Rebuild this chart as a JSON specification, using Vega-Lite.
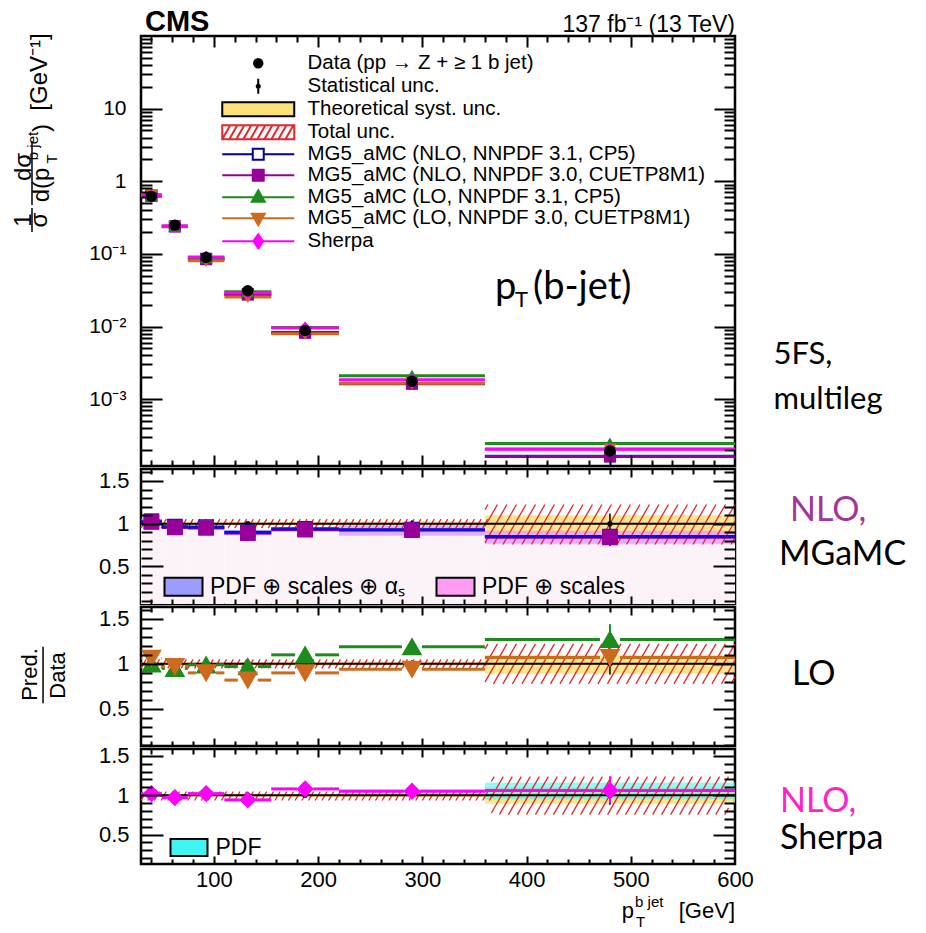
{
  "$schema": "https://vega.github.io/schema/vega-lite/v6.json",
  "background": "white",
  "padding": {"left": 10, "top": 6, "right": 5, "bottom": 0},
  "config": {
    "view": {"stroke": "black", "strokeWidth": 2.5},
    "axis": {"domain": false, "grid": false, "tickColor": "black", "tickWidth": 2, "labelColor": "black", "labelFont": "Liberation Sans", "labelFontSize": 22, "labelFlush": false, "labelOverlap": false},
    "legend": {"padding": 0}
  },
  "datasets": {
    "one": [{"k": 0}],
    "bins": [
      {"lo": 30, "hi": 50, "c": 40, "v": 0.62, "vlo": 0.613, "vhi": 0.627, "slo": 0.988, "shi": 1.012, "ylo": 0.985, "yhi": 1.015},
      {"lo": 50, "hi": 75, "c": 62.5, "v": 0.249, "vlo": 0.2465, "vhi": 0.2515, "slo": 0.99, "shi": 1.01, "ylo": 0.985, "yhi": 1.015},
      {"lo": 75, "hi": 110, "c": 92.5, "v": 0.089, "vlo": 0.0877, "vhi": 0.0903, "slo": 0.985, "shi": 1.015, "ylo": 0.985, "yhi": 1.015},
      {"lo": 110, "hi": 155, "c": 132.5, "v": 0.031, "vlo": 0.0304, "vhi": 0.0316, "slo": 0.98, "shi": 1.02, "ylo": 0.98, "yhi": 1.02},
      {"lo": 155, "hi": 220, "c": 187.5, "v": 0.0088, "vlo": 0.00855, "vhi": 0.00905, "slo": 0.97, "shi": 1.03, "ylo": 0.98, "yhi": 1.02},
      {"lo": 220, "hi": 360, "c": 290, "v": 0.00176, "vlo": 0.00169, "vhi": 0.00183, "slo": 0.96, "shi": 1.04, "ylo": 0.975, "yhi": 1.025},
      {"lo": 360, "hi": 600, "c": 480, "v": 0.000193, "vlo": 0.00017, "vhi": 0.000216, "slo": 0.88, "shi": 1.12, "ylo": 0.89, "yhi": 1.1}
    ],
    "pred": [
      {"model": "MG5_aMC (NLO, NNPDF 3.1, CP5)", "grp": "NLO", "band": "PDF ⊕ scales ⊕ αₛ", "lo": 30, "hi": 50, "c": 40, "xs": 0.6324, "r": 1.02, "elo": 1.0, "ehi": 1.04, "blo": 0.995, "bhi": 1.045},
      {"model": "MG5_aMC (NLO, NNPDF 3.1, CP5)", "grp": "NLO", "band": "PDF ⊕ scales ⊕ αₛ", "lo": 50, "hi": 75, "c": 62.5, "xs": 0.2403, "r": 0.965, "elo": 0.95, "ehi": 0.98, "blo": 0.945, "bhi": 0.985},
      {"model": "MG5_aMC (NLO, NNPDF 3.1, CP5)", "grp": "NLO", "band": "PDF ⊕ scales ⊕ αₛ", "lo": 75, "hi": 110, "c": 92.5, "xs": 0.08544, "r": 0.96, "elo": 0.945, "ehi": 0.975, "blo": 0.94, "bhi": 0.98},
      {"model": "MG5_aMC (NLO, NNPDF 3.1, CP5)", "grp": "NLO", "band": "PDF ⊕ scales ⊕ αₛ", "lo": 110, "hi": 155, "c": 132.5, "xs": 0.0279, "r": 0.9, "elo": 0.88, "ehi": 0.92, "blo": 0.875, "bhi": 0.925},
      {"model": "MG5_aMC (NLO, NNPDF 3.1, CP5)", "grp": "NLO", "band": "PDF ⊕ scales ⊕ αₛ", "lo": 155, "hi": 220, "c": 187.5, "xs": 0.008272, "r": 0.94, "elo": 0.92, "ehi": 0.96, "blo": 0.915, "bhi": 0.965},
      {"model": "MG5_aMC (NLO, NNPDF 3.1, CP5)", "grp": "NLO", "band": "PDF ⊕ scales ⊕ αₛ", "lo": 220, "hi": 360, "c": 290, "xs": 0.0016368, "r": 0.93, "elo": 0.91, "ehi": 0.95, "blo": 0.86, "bhi": 0.98},
      {"model": "MG5_aMC (NLO, NNPDF 3.1, CP5)", "grp": "NLO", "band": "PDF ⊕ scales ⊕ αₛ", "lo": 360, "hi": 600, "c": 480, "xs": 0.00016405, "r": 0.85, "elo": 0.74, "ehi": 0.93, "blo": 0.77, "bhi": 0.91},
      {"model": "MG5_aMC (NLO, NNPDF 3.0, CUETP8M1)", "grp": "NLO", "band": "PDF ⊕ scales", "lo": 30, "hi": 50, "c": 40, "xs": 0.6386, "r": 1.03, "elo": 1.015, "ehi": 1.045, "blo": 1.0, "bhi": 1.06},
      {"model": "MG5_aMC (NLO, NNPDF 3.0, CUETP8M1)", "grp": "NLO", "band": "PDF ⊕ scales", "lo": 50, "hi": 75, "c": 62.5, "xs": 0.2378, "r": 0.955, "elo": 0.94, "ehi": 0.97, "blo": 0.935, "bhi": 0.975},
      {"model": "MG5_aMC (NLO, NNPDF 3.0, CUETP8M1)", "grp": "NLO", "band": "PDF ⊕ scales", "lo": 75, "hi": 110, "c": 92.5, "xs": 0.08455, "r": 0.95, "elo": 0.935, "ehi": 0.965, "blo": 0.93, "bhi": 0.97},
      {"model": "MG5_aMC (NLO, NNPDF 3.0, CUETP8M1)", "grp": "NLO", "band": "PDF ⊕ scales", "lo": 110, "hi": 155, "c": 132.5, "xs": 0.02759, "r": 0.89, "elo": 0.87, "ehi": 0.91, "blo": 0.865, "bhi": 0.915},
      {"model": "MG5_aMC (NLO, NNPDF 3.0, CUETP8M1)", "grp": "NLO", "band": "PDF ⊕ scales", "lo": 155, "hi": 220, "c": 187.5, "xs": 0.008184, "r": 0.93, "elo": 0.91, "ehi": 0.95, "blo": 0.905, "bhi": 0.955},
      {"model": "MG5_aMC (NLO, NNPDF 3.0, CUETP8M1)", "grp": "NLO", "band": "PDF ⊕ scales", "lo": 220, "hi": 360, "c": 290, "xs": 0.001628, "r": 0.925, "elo": 0.905, "ehi": 0.945, "blo": 0.87, "bhi": 0.97},
      {"model": "MG5_aMC (NLO, NNPDF 3.0, CUETP8M1)", "grp": "NLO", "band": "PDF ⊕ scales", "lo": 360, "hi": 600, "c": 480, "xs": 0.00016212, "r": 0.84, "elo": 0.76, "ehi": 0.92, "blo": 0.76, "bhi": 0.92},
      {"model": "MG5_aMC (LO, NNPDF 3.1, CP5)", "grp": "LO", "lo": 30, "hi": 50, "c": 40, "xs": 0.62, "r": 1.0, "elo": 0.98, "ehi": 1.02},
      {"model": "MG5_aMC (LO, NNPDF 3.1, CP5)", "grp": "LO", "lo": 50, "hi": 75, "c": 62.5, "xs": 0.23655, "r": 0.95, "elo": 0.93, "ehi": 0.97},
      {"model": "MG5_aMC (LO, NNPDF 3.1, CP5)", "grp": "LO", "lo": 75, "hi": 110, "c": 92.5, "xs": 0.08811, "r": 0.99, "elo": 0.97, "ehi": 1.01},
      {"model": "MG5_aMC (LO, NNPDF 3.1, CP5)", "grp": "LO", "lo": 110, "hi": 155, "c": 132.5, "xs": 0.03007, "r": 0.97, "elo": 0.94, "ehi": 1.0},
      {"model": "MG5_aMC (LO, NNPDF 3.1, CP5)", "grp": "LO", "lo": 155, "hi": 220, "c": 187.5, "xs": 0.00968, "r": 1.1, "elo": 1.07, "ehi": 1.13},
      {"model": "MG5_aMC (LO, NNPDF 3.1, CP5)", "grp": "LO", "lo": 220, "hi": 360, "c": 290, "xs": 0.0020944, "r": 1.19, "elo": 1.16, "ehi": 1.22},
      {"model": "MG5_aMC (LO, NNPDF 3.1, CP5)", "grp": "LO", "lo": 360, "hi": 600, "c": 480, "xs": 0.00024511, "r": 1.27, "elo": 1.1, "ehi": 1.44},
      {"model": "MG5_aMC (LO, NNPDF 3.0, CUETP8M1)", "grp": "LO", "lo": 30, "hi": 50, "c": 40, "xs": 0.6572, "r": 1.06, "elo": 1.04, "ehi": 1.08},
      {"model": "MG5_aMC (LO, NNPDF 3.0, CUETP8M1)", "grp": "LO", "lo": 50, "hi": 75, "c": 62.5, "xs": 0.24153, "r": 0.97, "elo": 0.95, "ehi": 0.99},
      {"model": "MG5_aMC (LO, NNPDF 3.0, CUETP8M1)", "grp": "LO", "lo": 75, "hi": 110, "c": 92.5, "xs": 0.0801, "r": 0.9, "elo": 0.88, "ehi": 0.92},
      {"model": "MG5_aMC (LO, NNPDF 3.0, CUETP8M1)", "grp": "LO", "lo": 110, "hi": 155, "c": 132.5, "xs": 0.02542, "r": 0.82, "elo": 0.79, "ehi": 0.85},
      {"model": "MG5_aMC (LO, NNPDF 3.0, CUETP8M1)", "grp": "LO", "lo": 155, "hi": 220, "c": 187.5, "xs": 0.00792, "r": 0.9, "elo": 0.87, "ehi": 0.93},
      {"model": "MG5_aMC (LO, NNPDF 3.0, CUETP8M1)", "grp": "LO", "lo": 220, "hi": 360, "c": 290, "xs": 0.0016544, "r": 0.94, "elo": 0.91, "ehi": 0.97},
      {"model": "MG5_aMC (LO, NNPDF 3.0, CUETP8M1)", "grp": "LO", "lo": 360, "hi": 600, "c": 480, "xs": 0.00020651, "r": 1.07, "elo": 0.97, "ehi": 1.17},
      {"model": "Sherpa", "grp": "SH", "band": "PDF", "lo": 30, "hi": 50, "c": 40, "xs": 0.6324, "r": 1.02, "elo": 1.0, "ehi": 1.04, "blo": 1.005, "bhi": 1.035},
      {"model": "Sherpa", "grp": "SH", "band": "PDF", "lo": 50, "hi": 75, "c": 62.5, "xs": 0.24153, "r": 0.97, "elo": 0.94, "ehi": 1.0, "blo": 0.955, "bhi": 0.985},
      {"model": "Sherpa", "grp": "SH", "band": "PDF", "lo": 75, "hi": 110, "c": 92.5, "xs": 0.09078, "r": 1.02, "elo": 1.0, "ehi": 1.04, "blo": 1.005, "bhi": 1.035},
      {"model": "Sherpa", "grp": "SH", "band": "PDF", "lo": 110, "hi": 155, "c": 132.5, "xs": 0.02914, "r": 0.94, "elo": 0.91, "ehi": 0.97, "blo": 0.925, "bhi": 0.955},
      {"model": "Sherpa", "grp": "SH", "band": "PDF", "lo": 155, "hi": 220, "c": 187.5, "xs": 0.009504, "r": 1.08, "elo": 1.06, "ehi": 1.1, "blo": 1.065, "bhi": 1.095},
      {"model": "Sherpa", "grp": "SH", "band": "PDF", "lo": 220, "hi": 360, "c": 290, "xs": 0.001848, "r": 1.05, "elo": 1.03, "ehi": 1.07, "blo": 1.03, "bhi": 1.08},
      {"model": "Sherpa", "grp": "SH", "band": "PDF", "lo": 360, "hi": 600, "c": 480, "xs": 0.00020458, "r": 1.06, "elo": 0.9, "ehi": 1.24, "blo": 0.95, "bhi": 1.16}
    ]
  },
  "spacing": -4,
  "resolve": {"scale": {"color": "independent"}, "legend": {"color": "independent"}},
  "vconcat": [
    {
      "width": 594,
      "height": 430,
      "resolve": {"axis": {"x": "independent", "y": "independent"}},
      "layer": [
        {"data": {"name": "pred"}, "mark": {"type": "rule", "strokeWidth": 3},
         "encoding": {
           "x": {"field": "lo", "type": "quantitative", "scale": {"domain": [30, 600]}, "axis": null},
           "x2": {"field": "hi"},
           "y": {"field": "xs", "type": "quantitative", "scale": {"type": "log", "domain": [0.00012, 100]}, "axis": null},
           "stroke": {"field": "model", "type": "nominal", "scale": {"domain": ["MG5_aMC (NLO, NNPDF 3.1, CP5)", "MG5_aMC (NLO, NNPDF 3.0, CUETP8M1)", "MG5_aMC (LO, NNPDF 3.1, CP5)", "MG5_aMC (LO, NNPDF 3.0, CUETP8M1)", "Sherpa"], "range": ["#1010d0", "#990099", "#1c8c1c", "#cc6b1e", "#ff00ff"]}, "legend": null}}},
        {"data": {"name": "pred"}, "mark": {"type": "point", "filled": true, "size": 110, "strokeWidth": 1.5, "opacity": 1},
         "encoding": {
           "x": {"field": "c", "type": "quantitative", "scale": {"domain": [30, 600]}, "axis": null},
           "y": {"field": "xs", "type": "quantitative", "scale": {"type": "log", "domain": [0.00012, 100]}, "axis": null},
           "shape": {"field": "model", "type": "nominal", "scale": {"domain": ["MG5_aMC (NLO, NNPDF 3.1, CP5)", "MG5_aMC (NLO, NNPDF 3.0, CUETP8M1)", "MG5_aMC (LO, NNPDF 3.1, CP5)", "MG5_aMC (LO, NNPDF 3.0, CUETP8M1)", "Sherpa"], "range": ["square", "square", "triangle-up", "triangle-down", "diamond"]}, "legend": null},
           "fill": {"field": "model", "type": "nominal", "scale": {"domain": ["MG5_aMC (NLO, NNPDF 3.1, CP5)", "MG5_aMC (NLO, NNPDF 3.0, CUETP8M1)", "MG5_aMC (LO, NNPDF 3.1, CP5)", "MG5_aMC (LO, NNPDF 3.0, CUETP8M1)", "Sherpa"], "range": ["white", "#990099", "#1c8c1c", "#cc6b1e", "#ff00ff"]}, "legend": null},
           "stroke": {"field": "model", "type": "nominal", "scale": {"domain": ["MG5_aMC (NLO, NNPDF 3.1, CP5)", "MG5_aMC (NLO, NNPDF 3.0, CUETP8M1)", "MG5_aMC (LO, NNPDF 3.1, CP5)", "MG5_aMC (LO, NNPDF 3.0, CUETP8M1)", "Sherpa"], "range": ["#1010d0", "#990099", "#1c8c1c", "#cc6b1e", "#ff00ff"]}, "legend": null}}},
        {"data": {"name": "bins"}, "mark": {"type": "rule", "color": "black", "strokeWidth": 1.5},
         "encoding": {
           "x": {"field": "c", "type": "quantitative", "scale": {"domain": [30, 600]}, "axis": null},
           "y": {"field": "vlo", "type": "quantitative", "scale": {"type": "log", "domain": [0.00012, 100]}, "axis": null},
           "y2": {"field": "vhi"}}},
        {"data": {"name": "bins"}, "mark": {"type": "point", "filled": true, "color": "black", "size": 130, "opacity": 1},
         "encoding": {
           "x": {"field": "c", "type": "quantitative", "scale": {"domain": [30, 600]}, "axis": null},
           "y": {"field": "v", "type": "quantitative", "scale": {"type": "log", "domain": [0.00012, 100]}, "axis": null}}},
        {"data": {"name": "pred"}, "mark": {"type": "point", "filled": true, "opacity": 0},
         "encoding": {
           "x": {"field": "c", "type": "quantitative", "scale": {"domain": [30, 600]}, "axis": null},
           "y": {"field": "xs", "type": "quantitative", "scale": {"type": "log", "domain": [0.00012, 100]}, "axis": null},
           "color": {"field": "model", "type": "nominal",
             "scale": {"domain": ["Data (pp → Z + ≥ 1 b jet)", "Statistical unc.", "Theoretical syst. unc.", "Total unc.", "MG5_aMC (NLO, NNPDF 3.1, CP5)", "MG5_aMC (NLO, NNPDF 3.0, CUETP8M1)", "MG5_aMC (LO, NNPDF 3.1, CP5)", "MG5_aMC (LO, NNPDF 3.0, CUETP8M1)", "Sherpa"],
                       "range": ["black", "black", "#fde27a", "transparent", "white", "#990099", "#1c8c1c", "#cc6b1e", "#ff00ff"]},
             "legend": {"orient": "none", "legendX": 107, "legendY": 17, "title": null, "direction": "vertical", "padding": 0,
               "symbolSize": 324, "symbolStrokeWidth": 2, "symbolOffset": 0, "labelOffset": 39, "rowPadding": 0,
               "labelFont": "Liberation Sans", "labelFontSize": 20.5, "labelColor": "black", "labelLimit": 600,
               "encode": {"symbols": {"update": {
                 "shape": {"signal": "['M-0.47,0A0.47,0.47,0,1,1,0.47,0A0.47,0.47,0,1,1,-0.47,0Z','M0,-0.83V0.83M-0.17,0A0.17,0.17,0,1,1,0.17,0A0.17,0.17,0,1,1,-0.17,0Z','M-4,-0.78H4V0.78H-4Z','M-4,-0.78H4V0.78H-4ZM-4,0.78l0.89,-1.56m-0.11,1.56l0.89,-1.56m-0.11,1.56l0.89,-1.56m-0.11,1.56l0.89,-1.56m-0.11,1.56l0.89,-1.56m-0.11,1.56l0.89,-1.56m-0.11,1.56l0.89,-1.56m-0.11,1.56l0.89,-1.56m-0.11,1.56l0.89,-1.56m-0.11,1.56l0.89,-1.56','M-4,0H-0.61M0.61,0H4M-0.61,-0.61H0.61V0.61H-0.61Z','M-4,0H4M-0.61,-0.61H0.61V0.61H-0.61Z','M-4,0H4M0,-0.78L0.72,0.5H-0.72Z','M-4,0H4M0,0.78L0.72,-0.5H-0.72Z','M-4,0H4M0,-0.78L0.56,0L0,0.78L-0.56,0Z'][datum.index]"},
                 "stroke": {"signal": "['black','black','black','#e8252a','#000099','#990099','#1c8c1c','#cc6b1e','#ff00ff'][datum.index]"},
                 "opacity": {"value": 1}}}}}}}},
        {"data": {"name": "one"}, "mark": {"type": "text", "text": "CMS", "font": "Liberation Sans", "fontSize": 29, "fontWeight": "bold", "align": "left", "baseline": "alphabetic", "dx": 4, "color": "black"},
         "encoding": {"x": {"datum": 30, "type": "quantitative", "scale": {"domain": [30, 600]}, "axis": null}, "y": {"datum": 117, "type": "quantitative", "scale": {"type": "log", "domain": [0.00012, 100]}, "axis": null}}},
        {"data": {"name": "one"}, "mark": {"type": "text", "text": "137 fb⁻¹ (13 TeV)", "font": "Liberation Sans", "fontSize": 23, "align": "right", "baseline": "alphabetic", "color": "black"},
         "encoding": {"x": {"datum": 600, "type": "quantitative", "scale": {"domain": [30, 600]}, "axis": null}, "y": {"datum": 113.5, "type": "quantitative", "scale": {"type": "log", "domain": [0.00012, 100]}, "axis": null}}},
        {"data": {"name": "one"}, "mark": {"type": "text", "text": "p", "font": "Lato", "fontSize": 38, "align": "left", "baseline": "alphabetic", "color": "black"},
         "encoding": {"x": {"datum": 369.7, "type": "quantitative", "scale": {"domain": [30, 600]}, "axis": null}, "y": {"datum": 0.02389, "type": "quantitative", "scale": {"type": "log", "domain": [0.00012, 100]}, "axis": null}}},
        {"data": {"name": "one"}, "mark": {"type": "text", "text": "T", "font": "Lato", "fontSize": 22, "align": "left", "baseline": "alphabetic", "color": "black"},
         "encoding": {"x": {"datum": 389, "type": "quantitative", "scale": {"domain": [30, 600]}, "axis": null}, "y": {"datum": 0.01853, "type": "quantitative", "scale": {"type": "log", "domain": [0.00012, 100]}, "axis": null}}},
        {"data": {"name": "one"}, "mark": {"type": "text", "text": "(b-jet)", "font": "Lato", "fontSize": 38, "align": "left", "baseline": "alphabetic", "color": "black"},
         "encoding": {"x": {"datum": 406.2, "type": "quantitative", "scale": {"domain": [30, 600]}, "axis": null}, "y": {"datum": 0.02389, "type": "quantitative", "scale": {"type": "log", "domain": [0.00012, 100]}, "axis": null}}},
        {"data": {"name": "one"}, "mark": {"type": "text", "text": "5FS,", "font": "Lato", "fontSize": 31, "align": "left", "baseline": "alphabetic", "color": "black"},
         "encoding": {"x": {"datum": 637, "type": "quantitative", "scale": {"domain": [30, 600]}, "axis": null}, "y": {"datum": 0.003044, "type": "quantitative", "scale": {"type": "log", "domain": [0.00012, 100]}, "axis": null}}},
        {"data": {"name": "one"}, "mark": {"type": "text", "text": "multileg", "font": "Lato", "fontSize": 31, "align": "left", "baseline": "alphabetic", "color": "black"},
         "encoding": {"x": {"datum": 637, "type": "quantitative", "scale": {"domain": [30, 600]}, "axis": null}, "y": {"datum": 0.000731, "type": "quantitative", "scale": {"type": "log", "domain": [0.00012, 100]}, "axis": null}}},
        {"data": {"name": "one"}, "mark": {"type": "text", "text": "1", "font": "Liberation Sans", "fontSize": 24, "angle": 270, "align": "center", "baseline": "middle", "color": "black"},
         "encoding": {"x": {"datum": -82.3, "type": "quantitative", "scale": {"domain": [30, 600]}, "axis": null}, "y": {"datum": 0.2926, "type": "quantitative", "scale": {"type": "log", "domain": [0.00012, 100]}, "axis": null}}},
        {"data": {"name": "one"}, "mark": {"type": "text", "text": "σ", "font": "Liberation Sans", "fontSize": 24, "angle": 270, "align": "center", "baseline": "middle", "color": "black"},
         "encoding": {"x": {"datum": -66.9, "type": "quantitative", "scale": {"domain": [30, 600]}, "axis": null}, "y": {"datum": 0.2926, "type": "quantitative", "scale": {"type": "log", "domain": [0.00012, 100]}, "axis": null}}},
        {"data": {"name": "one"}, "mark": {"type": "text", "text": "dσ", "font": "Liberation Sans", "fontSize": 24, "angle": 270, "align": "center", "baseline": "middle", "color": "black"},
         "encoding": {"x": {"datum": -82.3, "type": "quantitative", "scale": {"domain": [30, 600]}, "axis": null}, "y": {"datum": 1.571, "type": "quantitative", "scale": {"type": "log", "domain": [0.00012, 100]}, "axis": null}}},
        {"data": {"name": "one"}, "mark": {"type": "text", "text": "d(p", "font": "Liberation Sans", "fontSize": 24, "angle": 270, "align": "center", "baseline": "middle", "color": "black"},
         "encoding": {"x": {"datum": -65, "type": "quantitative", "scale": {"domain": [30, 600]}, "axis": null}, "y": {"datum": 0.8875, "type": "quantitative", "scale": {"type": "log", "domain": [0.00012, 100]}, "axis": null}}},
        {"data": {"name": "one"}, "mark": {"type": "text", "text": "T", "font": "Liberation Sans", "fontSize": 15, "angle": 270, "align": "center", "baseline": "middle", "color": "black"},
         "encoding": {"x": {"datum": -55.4, "type": "quantitative", "scale": {"domain": [30, 600]}, "axis": null}, "y": {"datum": 2.025, "type": "quantitative", "scale": {"type": "log", "domain": [0.00012, 100]}, "axis": null}}},
        {"data": {"name": "one"}, "mark": {"type": "text", "text": "b jet", "font": "Liberation Sans", "fontSize": 15, "angle": 270, "align": "center", "baseline": "middle", "color": "black"},
         "encoding": {"x": {"datum": -73.6, "type": "quantitative", "scale": {"domain": [30, 600]}, "axis": null}, "y": {"datum": 3.058, "type": "quantitative", "scale": {"type": "log", "domain": [0.00012, 100]}, "axis": null}}},
        {"data": {"name": "one"}, "mark": {"type": "text", "text": ")", "font": "Liberation Sans", "fontSize": 24, "angle": 270, "align": "center", "baseline": "middle", "color": "black"},
         "encoding": {"x": {"datum": -65, "type": "quantitative", "scale": {"domain": [30, 600]}, "axis": null}, "y": {"datum": 5.41, "type": "quantitative", "scale": {"type": "log", "domain": [0.00012, 100]}, "axis": null}}},
        {"data": {"name": "one"}, "mark": {"type": "text", "text": "[GeV⁻¹]", "font": "Liberation Sans", "fontSize": 24, "angle": 270, "align": "center", "baseline": "middle", "color": "black"},
         "encoding": {"x": {"datum": -66.9, "type": "quantitative", "scale": {"domain": [30, 600]}, "axis": null}, "y": {"datum": 31.9, "type": "quantitative", "scale": {"type": "log", "domain": [0.00012, 100]}, "axis": null}}},
        {"data": {"name": "one"}, "mark": {"type": "rule", "color": "black", "strokeWidth": 1.5},
         "encoding": {"x": {"datum": -74.6, "type": "quantitative", "scale": {"domain": [30, 600]}, "axis": null}, "y": {"datum": 0.428, "type": "quantitative", "scale": {"type": "log", "domain": [0.00012, 100]}, "axis": null}, "y2": {"datum": 0.2}}},
        {"data": {"name": "one"}, "mark": {"type": "rule", "color": "black", "strokeWidth": 1.5},
         "encoding": {"x": {"datum": -74.6, "type": "quantitative", "scale": {"domain": [30, 600]}, "axis": null}, "y": {"datum": 3.582, "type": "quantitative", "scale": {"type": "log", "domain": [0.00012, 100]}, "axis": null}, "y2": {"datum": 0.4708}}},
        {"data": {"name": "one"}, "mark": {"type": "point", "opacity": 0},
         "encoding": {
           "x": {"datum": 100, "type": "quantitative", "scale": {"domain": [30, 600]}, "axis": null},
           "y": {"datum": 1, "type": "quantitative", "scale": {"type": "log", "domain": [0.00012, 100]}, "axis": {"orient": "left", "values": [0.001, 0.01, 0.1, 1, 10], "ticks": false, "labelFontSize": 21, "labelPadding": 15, "title": null, "labelExpr": "datum.value >= 10 ? '10' : datum.value >= 1 ? '1' : datum.value >= 0.1 ? '10⁻¹' : datum.value >= 0.01 ? '10⁻²' : '10⁻³'"}}}},
        {"data": {"name": "one"}, "mark": {"type": "point", "opacity": 0},
         "encoding": {
           "x": {"datum": 100, "type": "quantitative", "scale": {"domain": [30, 600]}, "axis": {"orient": "bottom", "values": [100, 200, 300, 400, 500], "labels": false, "tickSize": -11, "title": null, "zindex": 1}},
           "y": {"datum": 1, "type": "quantitative", "scale": {"type": "log", "domain": [0.00012, 100]}, "axis": {"orient": "left", "values": [0.001, 0.01, 0.1, 1, 10], "labels": false, "tickSize": -21, "title": null, "zindex": 1}}}},
        {"data": {"name": "one"}, "mark": {"type": "point", "opacity": 0},
         "encoding": {
           "x": {"datum": 100, "type": "quantitative", "scale": {"domain": [30, 600]}, "axis": {"orient": "bottom", "values": [40, 60, 80, 120, 140, 160, 180, 220, 240, 260, 280, 320, 340, 360, 380, 420, 440, 460, 480, 520, 540, 560, 580], "labels": false, "tickSize": -6, "title": null, "zindex": 1}},
           "y": {"datum": 1, "type": "quantitative", "scale": {"type": "log", "domain": [0.00012, 100]}, "axis": {"orient": "left", "values": [0.0002, 0.0003, 0.0004, 0.0005, 0.0006, 0.0007, 0.0008, 0.0009, 0.002, 0.003, 0.004, 0.005, 0.006, 0.007, 0.008, 0.009, 0.02, 0.03, 0.04, 0.05, 0.06, 0.07, 0.08, 0.09, 0.2, 0.3, 0.4, 0.5, 0.6, 0.7, 0.8, 0.9, 2, 3, 4, 5, 6, 7, 8, 9, 20, 30, 40, 50, 60, 70, 80, 90], "labels": false, "tickSize": -11, "title": null, "zindex": 1}}}},
        {"data": {"name": "one"}, "mark": {"type": "point", "opacity": 0},
         "encoding": {
           "x": {"datum": 100, "type": "quantitative", "scale": {"domain": [30, 600]}, "axis": {"orient": "top", "values": [100, 200, 300, 400, 500], "labels": false, "tickSize": -11, "title": null, "zindex": 1}},
           "y": {"datum": 1, "type": "quantitative", "scale": {"type": "log", "domain": [0.00012, 100]}, "axis": {"orient": "right", "values": [0.001, 0.01, 0.1, 1, 10], "labels": false, "tickSize": -21, "title": null, "zindex": 1}}}},
        {"data": {"name": "one"}, "mark": {"type": "point", "opacity": 0},
         "encoding": {
           "x": {"datum": 100, "type": "quantitative", "scale": {"domain": [30, 600]}, "axis": {"orient": "top", "values": [40, 60, 80, 120, 140, 160, 180, 220, 240, 260, 280, 320, 340, 360, 380, 420, 440, 460, 480, 520, 540, 560, 580], "labels": false, "tickSize": -6, "title": null, "zindex": 1}},
           "y": {"datum": 1, "type": "quantitative", "scale": {"type": "log", "domain": [0.00012, 100]}, "axis": {"orient": "right", "values": [0.0002, 0.0003, 0.0004, 0.0005, 0.0006, 0.0007, 0.0008, 0.0009, 0.002, 0.003, 0.004, 0.005, 0.006, 0.007, 0.008, 0.009, 0.02, 0.03, 0.04, 0.05, 0.06, 0.07, 0.08, 0.09, 0.2, 0.3, 0.4, 0.5, 0.6, 0.7, 0.8, 0.9, 2, 3, 4, 5, 6, 7, 8, 9, 20, 30, 40, 50, 60, 70, 80, 90], "labels": false, "tickSize": -11, "title": null, "zindex": 1}}}}
      ]
    },
    {
      "spacing": -9.5,
      "resolve": {"scale": {"color": "independent"}, "legend": {"color": "independent"}},
      "vconcat": [
        {
          "width": 594,
          "height": 135,
          "resolve": {"axis": {"x": "independent", "y": "independent"}},
          "layer": [
            {"data": {"name": "pred"}, "transform": [{"filter": "datum.model == 'MG5_aMC (NLO, NNPDF 3.1, CP5)'"}], "mark": {"type": "rect", "color": "#fcf3f9"},
             "encoding": {"x": {"field": "lo", "type": "quantitative", "scale": {"domain": [30, 600]}, "axis": null}, "x2": {"field": "hi"},
               "y": {"field": "blo", "type": "quantitative", "scale": {"domain": [0.06, 1.64]}, "axis": null}, "y2": {"datum": 0.06}}},
            {"data": {"name": "bins"}, "mark": {"type": "rect", "color": "#ffdc66", "opacity": 0.75},
             "encoding": {"x": {"field": "lo", "type": "quantitative", "scale": {"domain": [30, 600]}, "axis": null}, "x2": {"field": "hi"},
               "y": {"field": "ylo", "type": "quantitative", "scale": {"domain": [0.06, 1.64]}, "axis": null}, "y2": {"field": "yhi"}}},
            {"data": {"name": "pred"}, "transform": [{"filter": "datum.grp == 'NLO'"}], "mark": {"type": "rect", "opacity": 0.6},
             "encoding": {"x": {"field": "lo", "type": "quantitative", "scale": {"domain": [30, 600]}, "axis": null}, "x2": {"field": "hi"},
               "y": {"field": "blo", "type": "quantitative", "scale": {"domain": [0.06, 1.64]}, "axis": null}, "y2": {"field": "bhi"},
               "color": {"field": "band", "type": "nominal", "scale": {"domain": ["PDF ⊕ scales ⊕ αₛ", "PDF ⊕ scales"], "range": ["#9c9cff", "#ff9cf4"]},
                 "legend": {"orient": "none", "legendX": 31, "legendY": 106, "direction": "horizontal", "columns": 2, "title": null, "padding": 0,
                   "symbolType": "M-1.9,-0.9H1.9V0.9H-1.9Z", "symbolSize": 400, "symbolStrokeColor": "black", "symbolStrokeWidth": 2, "symbolOpacity": 1, "symbolOffset": 0,
                   "labelOffset": 15, "labelFont": "Liberation Sans", "labelFontSize": 23, "labelColor": "black", "labelLimit": 600, "columnPadding": 26,
                   "encode": {"symbols": {"update": {"stroke": {"value": "black"}, "opacity": {"value": 1}}}}}}}},
            {"data": {"name": "one"}, "mark": {"type": "point", "shape": "M-17.2,0.45l0.52,-0.9m0.15,0.9l0.52,-0.9m0.15,0.9l0.52,-0.9m0.15,0.9l0.52,-0.9m0.15,0.9l0.52,-0.9m0.15,0.9l0.52,-0.9m0.15,0.9l0.52,-0.9m0.15,0.9l0.52,-0.9m0.15,0.9l0.52,-0.9m0.15,0.9l0.52,-0.9m0.15,0.9l0.52,-0.9m0.15,0.9l0.52,-0.9m0.15,0.9l0.52,-0.9m0.15,0.9l0.52,-0.9m0.15,0.9l0.52,-0.9m0.15,0.9l0.52,-0.9m0.15,0.9l0.52,-0.9m0.15,0.9l0.52,-0.9m0.15,0.9l0.52,-0.9m0.15,0.9l0.52,-0.9m0.15,0.9l0.52,-0.9m0.15,0.9l0.52,-0.9m0.15,0.9l0.52,-0.9m0.15,0.9l0.52,-0.9m0.15,0.9l0.52,-0.9m0.15,0.9l0.52,-0.9m0.15,0.9l0.52,-0.9m0.15,0.9l0.52,-0.9m0.15,0.9l0.52,-0.9m0.15,0.9l0.52,-0.9m0.15,0.9l0.52,-0.9m0.15,0.9l0.52,-0.9m0.15,0.9l0.52,-0.9m0.15,0.9l0.52,-0.9m0.15,0.9l0.52,-0.9m0.15,0.9l0.52,-0.9m0.15,0.9l0.52,-0.9m0.15,0.9l0.52,-0.9m0.15,0.9l0.52,-0.9m0.15,0.9l0.52,-0.9m0.15,0.9l0.52,-0.9m0.15,0.9l0.52,-0.9m0.15,0.9l0.52,-0.9m0.15,0.9l0.52,-0.9m0.15,0.9l0.52,-0.9m0.15,0.9l0.52,-0.9m0.15,0.9l0.52,-0.9m0.15,0.9l0.52,-0.9m0.15,0.9l0.52,-0.9m0.15,0.9l0.52,-0.9m0.15,0.9l0.52,-0.9m0.15,0.9l0.52,-0.9M16.97,0.45L17.2,0.05", "size": 400, "filled": false, "color": "#e8252a", "strokeWidth": 1.3, "opacity": 1},
             "encoding": {"x": {"datum": 195, "type": "quantitative", "scale": {"domain": [30, 600]}, "axis": null}, "y": {"datum": 1, "type": "quantitative", "scale": {"domain": [0.06, 1.64]}, "axis": null}}},
            {"data": {"name": "one"}, "mark": {"type": "point", "shape": "M-11.65,2l2.3,-4m-1.35,4l2.3,-4m-1.35,4l2.3,-4m-1.35,4l2.3,-4m-1.35,4l2.3,-4m-1.35,4l2.3,-4m-1.35,4l2.3,-4m-1.35,4l2.3,-4m-1.35,4l2.3,-4m-1.35,4l2.3,-4m-1.35,4l2.3,-4m-1.35,4l2.3,-4m-1.35,4l2.3,-4m-1.35,4l2.3,-4m-1.35,4l2.3,-4m-1.35,4l2.3,-4m-1.35,4l2.3,-4m-1.35,4l2.3,-4m-1.35,4l2.3,-4m-1.35,4l2.3,-4m-1.35,4l2.3,-4m-1.35,4l2.3,-4m-1.35,4l2.3,-4m-1.35,4l2.3,-4M-12.5,-1.48L-12.2,-2M-12.5,0.17L-11.25,-2M-12.5,1.83L-10.3,-2M11.15,2L12.5,-0.35M12.1,2L12.5,1.3", "size": 400, "filled": false, "color": "#e8252a", "strokeWidth": 1.3, "opacity": 1},
             "encoding": {"x": {"datum": 480, "type": "quantitative", "scale": {"domain": [30, 600]}, "axis": null}, "y": {"datum": 0.99, "type": "quantitative", "scale": {"domain": [0.06, 1.64]}, "axis": null}}},
            {"data": {"name": "one"}, "mark": {"type": "rule", "color": "black", "strokeWidth": 2},
             "encoding": {"x": {"datum": 30, "type": "quantitative", "scale": {"domain": [30, 600]}, "axis": null}, "x2": {"datum": 600}, "y": {"datum": 1, "type": "quantitative", "scale": {"domain": [0.06, 1.64]}, "axis": null}}},
            {"data": {"name": "bins"}, "mark": {"type": "rule", "color": "black", "strokeWidth": 1.5},
             "encoding": {"x": {"field": "c", "type": "quantitative", "scale": {"domain": [30, 600]}, "axis": null}, "y": {"field": "slo", "type": "quantitative", "scale": {"domain": [0.06, 1.64]}, "axis": null}, "y2": {"field": "shi"}}},
            {"data": {"name": "bins"}, "mark": {"type": "point", "filled": true, "color": "black", "size": 28, "opacity": 1},
             "encoding": {"x": {"field": "c", "type": "quantitative", "scale": {"domain": [30, 600]}, "axis": null}, "y": {"datum": 1, "type": "quantitative", "scale": {"domain": [0.06, 1.64]}, "axis": null}}},
            {"data": {"name": "pred"}, "transform": [{"filter": "datum.grp == 'NLO'"}], "mark": {"type": "rule", "strokeWidth": 3, "x2Offset": -8},
             "encoding": {"x": {"field": "lo", "type": "quantitative", "scale": {"domain": [30, 600]}, "axis": null}, "x2": {"field": "c"},
               "y": {"field": "r", "type": "quantitative", "scale": {"domain": [0.06, 1.64]}, "axis": null},
               "order": {"field": "model", "type": "ordinal", "sort": "ascending"},
               "stroke": {"field": "model", "type": "nominal", "scale": {"domain": ["MG5_aMC (NLO, NNPDF 3.1, CP5)", "MG5_aMC (NLO, NNPDF 3.0, CUETP8M1)", "MG5_aMC (LO, NNPDF 3.1, CP5)", "MG5_aMC (LO, NNPDF 3.0, CUETP8M1)", "Sherpa"], "range": ["#1010d0", "#990099", "#1c8c1c", "#cc6b1e", "#ff00ff"]}, "legend": null}}},
            {"data": {"name": "pred"}, "transform": [{"filter": "datum.grp == 'NLO'"}], "mark": {"type": "rule", "strokeWidth": 3, "xOffset": 8},
             "encoding": {"x": {"field": "c", "type": "quantitative", "scale": {"domain": [30, 600]}, "axis": null}, "x2": {"field": "hi"},
               "y": {"field": "r", "type": "quantitative", "scale": {"domain": [0.06, 1.64]}, "axis": null},
               "order": {"field": "model", "type": "ordinal", "sort": "ascending"},
               "stroke": {"field": "model", "type": "nominal", "scale": {"domain": ["MG5_aMC (NLO, NNPDF 3.1, CP5)", "MG5_aMC (NLO, NNPDF 3.0, CUETP8M1)", "MG5_aMC (LO, NNPDF 3.1, CP5)", "MG5_aMC (LO, NNPDF 3.0, CUETP8M1)", "Sherpa"], "range": ["#1010d0", "#990099", "#1c8c1c", "#cc6b1e", "#ff00ff"]}, "legend": null}}},
            {"data": {"name": "pred"}, "transform": [{"filter": "datum.grp == 'NLO'"}], "mark": {"type": "rule", "strokeWidth": 2},
             "encoding": {"x": {"field": "c", "type": "quantitative", "scale": {"domain": [30, 600]}, "axis": null},
               "y": {"field": "elo", "type": "quantitative", "scale": {"domain": [0.06, 1.64]}, "axis": null}, "y2": {"field": "ehi"},
               "order": {"field": "model", "type": "ordinal", "sort": "ascending"},
               "stroke": {"field": "model", "type": "nominal", "scale": {"domain": ["MG5_aMC (NLO, NNPDF 3.1, CP5)", "MG5_aMC (NLO, NNPDF 3.0, CUETP8M1)", "MG5_aMC (LO, NNPDF 3.1, CP5)", "MG5_aMC (LO, NNPDF 3.0, CUETP8M1)", "Sherpa"], "range": ["#1010d0", "#990099", "#1c8c1c", "#cc6b1e", "#ff00ff"]}, "legend": null}}},
            {"data": {"name": "pred"}, "transform": [{"filter": "datum.grp == 'NLO'"}], "mark": {"type": "point", "filled": true, "size": 200, "strokeWidth": 1.5, "opacity": 1},
             "encoding": {"x": {"field": "c", "type": "quantitative", "scale": {"domain": [30, 600]}, "axis": null},
               "y": {"field": "r", "type": "quantitative", "scale": {"domain": [0.06, 1.64]}, "axis": null},
               "order": {"field": "model", "type": "ordinal", "sort": "descending"},
               "shape": {"field": "model", "type": "nominal", "scale": {"domain": ["MG5_aMC (NLO, NNPDF 3.1, CP5)", "MG5_aMC (NLO, NNPDF 3.0, CUETP8M1)", "MG5_aMC (LO, NNPDF 3.1, CP5)", "MG5_aMC (LO, NNPDF 3.0, CUETP8M1)", "Sherpa"], "range": ["square", "square", "triangle-up", "triangle-down", "diamond"]}, "legend": null},
               "fill": {"field": "model", "type": "nominal", "scale": {"domain": ["MG5_aMC (NLO, NNPDF 3.1, CP5)", "MG5_aMC (NLO, NNPDF 3.0, CUETP8M1)", "MG5_aMC (LO, NNPDF 3.1, CP5)", "MG5_aMC (LO, NNPDF 3.0, CUETP8M1)", "Sherpa"], "range": ["white", "#990099", "#1c8c1c", "#cc6b1e", "#ff00ff"]}, "legend": null},
               "stroke": {"field": "model", "type": "nominal", "scale": {"domain": ["MG5_aMC (NLO, NNPDF 3.1, CP5)", "MG5_aMC (NLO, NNPDF 3.0, CUETP8M1)", "MG5_aMC (LO, NNPDF 3.1, CP5)", "MG5_aMC (LO, NNPDF 3.0, CUETP8M1)", "Sherpa"], "range": ["#1010d0", "#990099", "#1c8c1c", "#cc6b1e", "#ff00ff"]}, "legend": null}}},
            {"data": {"name": "one"}, "mark": {"type": "text", "text": "NLO,", "font": "Lato", "fontSize": 34, "align": "left", "baseline": "alphabetic", "color": "#a0359c"},
             "encoding": {"x": {"datum": 652.8, "type": "quantitative", "scale": {"domain": [30, 600]}, "axis": null}, "y": {"datum": 1.035, "type": "quantitative", "scale": {"domain": [0.06, 1.64]}, "axis": null}}},
            {"data": {"name": "one"}, "mark": {"type": "text", "text": "MGaMC", "font": "Lato", "fontSize": 34, "align": "left", "baseline": "alphabetic", "color": "black"},
             "encoding": {"x": {"datum": 642.2, "type": "quantitative", "scale": {"domain": [30, 600]}, "axis": null}, "y": {"datum": 0.512, "type": "quantitative", "scale": {"domain": [0.06, 1.64]}, "axis": null}}},
            {"data": {"name": "one"}, "mark": {"type": "point", "opacity": 0},
             "encoding": {"x": {"datum": 100, "type": "quantitative", "scale": {"domain": [30, 600]}, "axis": null},
               "y": {"datum": 1, "type": "quantitative", "scale": {"domain": [0.06, 1.64]}, "axis": {"orient": "left", "values": [0.5, 1, 1.5], "ticks": false, "labelPadding": 12, "title": null, "labelExpr": "datum.value == 1 ? '1' : datum.value == 0.5 ? '0.5' : '1.5'"}}}},
            {"data": {"name": "one"}, "mark": {"type": "point", "opacity": 0},
             "encoding": {"x": {"datum": 100, "type": "quantitative", "scale": {"domain": [30, 600]}, "axis": {"orient": "bottom", "values": [100, 200, 300, 400, 500], "labels": false, "tickSize": -8, "title": null, "zindex": 1}},
               "y": {"datum": 1, "type": "quantitative", "scale": {"domain": [0.06, 1.64]}, "axis": {"orient": "left", "values": [0.5, 1, 1.5], "labels": false, "tickSize": -22, "title": null, "zindex": 1}}}},
            {"data": {"name": "one"}, "mark": {"type": "point", "opacity": 0},
             "encoding": {"x": {"datum": 100, "type": "quantitative", "scale": {"domain": [30, 600]}, "axis": {"orient": "bottom", "values": [40, 60, 80, 120, 140, 160, 180, 220, 240, 260, 280, 320, 340, 360, 380, 420, 440, 460, 480, 520, 540, 560, 580], "labels": false, "tickSize": -5, "title": null, "zindex": 1}},
               "y": {"datum": 1, "type": "quantitative", "scale": {"domain": [0.06, 1.64]}, "axis": {"orient": "left", "values": [0.1, 0.2, 0.3, 0.4, 0.6, 0.7, 0.8, 0.9, 1.1, 1.2, 1.3, 1.4, 1.6], "labels": false, "tickSize": -11, "title": null, "zindex": 1}}}},
            {"data": {"name": "one"}, "mark": {"type": "point", "opacity": 0},
             "encoding": {"x": {"datum": 100, "type": "quantitative", "scale": {"domain": [30, 600]}, "axis": {"orient": "top", "values": [100, 200, 300, 400, 500], "labels": false, "tickSize": -8, "title": null, "zindex": 1}},
               "y": {"datum": 1, "type": "quantitative", "scale": {"domain": [0.06, 1.64]}, "axis": {"orient": "right", "values": [0.5, 1, 1.5], "labels": false, "tickSize": -22, "title": null, "zindex": 1}}}},
            {"data": {"name": "one"}, "mark": {"type": "point", "opacity": 0},
             "encoding": {"x": {"datum": 100, "type": "quantitative", "scale": {"domain": [30, 600]}, "axis": {"orient": "top", "values": [40, 60, 80, 120, 140, 160, 180, 220, 240, 260, 280, 320, 340, 360, 380, 420, 440, 460, 480, 520, 540, 560, 580], "labels": false, "tickSize": -5, "title": null, "zindex": 1}},
               "y": {"datum": 1, "type": "quantitative", "scale": {"domain": [0.06, 1.64]}, "axis": {"orient": "right", "values": [0.1, 0.2, 0.3, 0.4, 0.6, 0.7, 0.8, 0.9, 1.1, 1.2, 1.3, 1.4, 1.6], "labels": false, "tickSize": -11, "title": null, "zindex": 1}}}}
          ]
        },
        {
          "width": 594,
          "height": 139,
          "resolve": {"axis": {"x": "independent", "y": "independent"}},
          "layer": [
            {"data": {"name": "bins"}, "mark": {"type": "rect", "color": "#ffdc66", "opacity": 0.75},
             "encoding": {"x": {"field": "lo", "type": "quantitative", "scale": {"domain": [30, 600]}, "axis": null}, "x2": {"field": "hi"},
               "y": {"field": "ylo", "type": "quantitative", "scale": {"domain": [0.09, 1.63]}, "axis": null}, "y2": {"field": "yhi"}}},
            {"data": {"name": "one"}, "mark": {"type": "point", "shape": "M-17.2,0.45l0.52,-0.9m0.15,0.9l0.52,-0.9m0.15,0.9l0.52,-0.9m0.15,0.9l0.52,-0.9m0.15,0.9l0.52,-0.9m0.15,0.9l0.52,-0.9m0.15,0.9l0.52,-0.9m0.15,0.9l0.52,-0.9m0.15,0.9l0.52,-0.9m0.15,0.9l0.52,-0.9m0.15,0.9l0.52,-0.9m0.15,0.9l0.52,-0.9m0.15,0.9l0.52,-0.9m0.15,0.9l0.52,-0.9m0.15,0.9l0.52,-0.9m0.15,0.9l0.52,-0.9m0.15,0.9l0.52,-0.9m0.15,0.9l0.52,-0.9m0.15,0.9l0.52,-0.9m0.15,0.9l0.52,-0.9m0.15,0.9l0.52,-0.9m0.15,0.9l0.52,-0.9m0.15,0.9l0.52,-0.9m0.15,0.9l0.52,-0.9m0.15,0.9l0.52,-0.9m0.15,0.9l0.52,-0.9m0.15,0.9l0.52,-0.9m0.15,0.9l0.52,-0.9m0.15,0.9l0.52,-0.9m0.15,0.9l0.52,-0.9m0.15,0.9l0.52,-0.9m0.15,0.9l0.52,-0.9m0.15,0.9l0.52,-0.9m0.15,0.9l0.52,-0.9m0.15,0.9l0.52,-0.9m0.15,0.9l0.52,-0.9m0.15,0.9l0.52,-0.9m0.15,0.9l0.52,-0.9m0.15,0.9l0.52,-0.9m0.15,0.9l0.52,-0.9m0.15,0.9l0.52,-0.9m0.15,0.9l0.52,-0.9m0.15,0.9l0.52,-0.9m0.15,0.9l0.52,-0.9m0.15,0.9l0.52,-0.9m0.15,0.9l0.52,-0.9m0.15,0.9l0.52,-0.9m0.15,0.9l0.52,-0.9m0.15,0.9l0.52,-0.9m0.15,0.9l0.52,-0.9m0.15,0.9l0.52,-0.9m0.15,0.9l0.52,-0.9M16.97,0.45L17.2,0.05", "size": 400, "filled": false, "color": "#e8252a", "strokeWidth": 1.3, "opacity": 1},
             "encoding": {"x": {"datum": 195, "type": "quantitative", "scale": {"domain": [30, 600]}, "axis": null}, "y": {"datum": 1, "type": "quantitative", "scale": {"domain": [0.09, 1.63]}, "axis": null}}},
            {"data": {"name": "one"}, "mark": {"type": "point", "shape": "M-11.65,2l2.3,-4m-1.35,4l2.3,-4m-1.35,4l2.3,-4m-1.35,4l2.3,-4m-1.35,4l2.3,-4m-1.35,4l2.3,-4m-1.35,4l2.3,-4m-1.35,4l2.3,-4m-1.35,4l2.3,-4m-1.35,4l2.3,-4m-1.35,4l2.3,-4m-1.35,4l2.3,-4m-1.35,4l2.3,-4m-1.35,4l2.3,-4m-1.35,4l2.3,-4m-1.35,4l2.3,-4m-1.35,4l2.3,-4m-1.35,4l2.3,-4m-1.35,4l2.3,-4m-1.35,4l2.3,-4m-1.35,4l2.3,-4m-1.35,4l2.3,-4m-1.35,4l2.3,-4m-1.35,4l2.3,-4M-12.5,-1.48L-12.2,-2M-12.5,0.17L-11.25,-2M-12.5,1.83L-10.3,-2M11.15,2L12.5,-0.35M12.1,2L12.5,1.3", "size": 400, "filled": false, "color": "#e8252a", "strokeWidth": 1.3, "opacity": 1},
             "encoding": {"x": {"datum": 480, "type": "quantitative", "scale": {"domain": [30, 600]}, "axis": null}, "y": {"datum": 1, "type": "quantitative", "scale": {"domain": [0.09, 1.63]}, "axis": null}}},
            {"data": {"name": "one"}, "mark": {"type": "rule", "color": "black", "strokeWidth": 2},
             "encoding": {"x": {"datum": 30, "type": "quantitative", "scale": {"domain": [30, 600]}, "axis": null}, "x2": {"datum": 600}, "y": {"datum": 1, "type": "quantitative", "scale": {"domain": [0.09, 1.63]}, "axis": null}}},
            {"data": {"name": "bins"}, "mark": {"type": "rule", "color": "black", "strokeWidth": 1.5},
             "encoding": {"x": {"field": "c", "type": "quantitative", "scale": {"domain": [30, 600]}, "axis": null}, "y": {"field": "slo", "type": "quantitative", "scale": {"domain": [0.09, 1.63]}, "axis": null}, "y2": {"field": "shi"}}},
            {"data": {"name": "bins"}, "mark": {"type": "point", "filled": true, "color": "black", "size": 28, "opacity": 1},
             "encoding": {"x": {"field": "c", "type": "quantitative", "scale": {"domain": [30, 600]}, "axis": null}, "y": {"datum": 1, "type": "quantitative", "scale": {"domain": [0.09, 1.63]}, "axis": null}}},
            {"data": {"name": "pred"}, "transform": [{"filter": "datum.grp == 'LO'"}], "mark": {"type": "rule", "strokeWidth": 3, "x2Offset": -10},
             "encoding": {"x": {"field": "lo", "type": "quantitative", "scale": {"domain": [30, 600]}, "axis": null}, "x2": {"field": "c"},
               "y": {"field": "r", "type": "quantitative", "scale": {"domain": [0.09, 1.63]}, "axis": null},
               "stroke": {"field": "model", "type": "nominal", "scale": {"domain": ["MG5_aMC (NLO, NNPDF 3.1, CP5)", "MG5_aMC (NLO, NNPDF 3.0, CUETP8M1)", "MG5_aMC (LO, NNPDF 3.1, CP5)", "MG5_aMC (LO, NNPDF 3.0, CUETP8M1)", "Sherpa"], "range": ["#1010d0", "#990099", "#1c8c1c", "#cc6b1e", "#ff00ff"]}, "legend": null}}},
            {"data": {"name": "pred"}, "transform": [{"filter": "datum.grp == 'LO'"}], "mark": {"type": "rule", "strokeWidth": 3, "xOffset": 10},
             "encoding": {"x": {"field": "c", "type": "quantitative", "scale": {"domain": [30, 600]}, "axis": null}, "x2": {"field": "hi"},
               "y": {"field": "r", "type": "quantitative", "scale": {"domain": [0.09, 1.63]}, "axis": null},
               "stroke": {"field": "model", "type": "nominal", "scale": {"domain": ["MG5_aMC (NLO, NNPDF 3.1, CP5)", "MG5_aMC (NLO, NNPDF 3.0, CUETP8M1)", "MG5_aMC (LO, NNPDF 3.1, CP5)", "MG5_aMC (LO, NNPDF 3.0, CUETP8M1)", "Sherpa"], "range": ["#1010d0", "#990099", "#1c8c1c", "#cc6b1e", "#ff00ff"]}, "legend": null}}},
            {"data": {"name": "pred"}, "transform": [{"filter": "datum.grp == 'LO'"}], "mark": {"type": "rule", "strokeWidth": 2},
             "encoding": {"x": {"field": "c", "type": "quantitative", "scale": {"domain": [30, 600]}, "axis": null},
               "y": {"field": "elo", "type": "quantitative", "scale": {"domain": [0.09, 1.63]}, "axis": null}, "y2": {"field": "ehi"},
               "stroke": {"field": "model", "type": "nominal", "scale": {"domain": ["MG5_aMC (NLO, NNPDF 3.1, CP5)", "MG5_aMC (NLO, NNPDF 3.0, CUETP8M1)", "MG5_aMC (LO, NNPDF 3.1, CP5)", "MG5_aMC (LO, NNPDF 3.0, CUETP8M1)", "Sherpa"], "range": ["#1010d0", "#990099", "#1c8c1c", "#cc6b1e", "#ff00ff"]}, "legend": null}}},
            {"data": {"name": "pred"}, "transform": [{"filter": "datum.grp == 'LO'"}], "mark": {"type": "point", "filled": true, "size": 330, "strokeWidth": 1.5, "opacity": 1},
             "encoding": {"x": {"field": "c", "type": "quantitative", "scale": {"domain": [30, 600]}, "axis": null},
               "y": {"field": "r", "type": "quantitative", "scale": {"domain": [0.09, 1.63]}, "axis": null},
               "shape": {"field": "model", "type": "nominal", "scale": {"domain": ["MG5_aMC (NLO, NNPDF 3.1, CP5)", "MG5_aMC (NLO, NNPDF 3.0, CUETP8M1)", "MG5_aMC (LO, NNPDF 3.1, CP5)", "MG5_aMC (LO, NNPDF 3.0, CUETP8M1)", "Sherpa"], "range": ["square", "square", "triangle-up", "triangle-down", "diamond"]}, "legend": null},
               "fill": {"field": "model", "type": "nominal", "scale": {"domain": ["MG5_aMC (NLO, NNPDF 3.1, CP5)", "MG5_aMC (NLO, NNPDF 3.0, CUETP8M1)", "MG5_aMC (LO, NNPDF 3.1, CP5)", "MG5_aMC (LO, NNPDF 3.0, CUETP8M1)", "Sherpa"], "range": ["white", "#990099", "#1c8c1c", "#cc6b1e", "#ff00ff"]}, "legend": null},
               "stroke": {"field": "model", "type": "nominal", "scale": {"domain": ["MG5_aMC (NLO, NNPDF 3.1, CP5)", "MG5_aMC (NLO, NNPDF 3.0, CUETP8M1)", "MG5_aMC (LO, NNPDF 3.1, CP5)", "MG5_aMC (LO, NNPDF 3.0, CUETP8M1)", "Sherpa"], "range": ["#1010d0", "#990099", "#1c8c1c", "#cc6b1e", "#ff00ff"]}, "legend": null}}},
            {"data": {"name": "one"}, "mark": {"type": "text", "text": "LO", "font": "Lato", "fontSize": 34, "align": "left", "baseline": "alphabetic", "color": "black"},
             "encoding": {"x": {"datum": 654.7, "type": "quantitative", "scale": {"domain": [30, 600]}, "axis": null}, "y": {"datum": 0.761, "type": "quantitative", "scale": {"domain": [0.09, 1.63]}, "axis": null}}},
            {"data": {"name": "one"}, "mark": {"type": "text", "text": "Pred.", "font": "Liberation Sans", "fontSize": 22, "angle": 270, "align": "center", "baseline": "middle", "color": "black"},
             "encoding": {"x": {"datum": -76.5, "type": "quantitative", "scale": {"domain": [30, 600]}, "axis": null}, "y": {"datum": 0.882, "type": "quantitative", "scale": {"domain": [0.09, 1.63]}, "axis": null}}},
            {"data": {"name": "one"}, "mark": {"type": "text", "text": "Data", "font": "Liberation Sans", "fontSize": 22, "angle": 270, "align": "center", "baseline": "middle", "color": "black"},
             "encoding": {"x": {"datum": -49.6, "type": "quantitative", "scale": {"domain": [30, 600]}, "axis": null}, "y": {"datum": 0.871, "type": "quantitative", "scale": {"domain": [0.09, 1.63]}, "axis": null}}},
            {"data": {"name": "one"}, "mark": {"type": "rule", "color": "black", "strokeWidth": 1.5},
             "encoding": {"x": {"datum": -64, "type": "quantitative", "scale": {"domain": [30, 600]}, "axis": null}, "y": {"datum": 1.19, "type": "quantitative", "scale": {"domain": [0.09, 1.63]}, "axis": null}, "y2": {"datum": 0.563}}},
            {"data": {"name": "one"}, "mark": {"type": "point", "opacity": 0},
             "encoding": {"x": {"datum": 100, "type": "quantitative", "scale": {"domain": [30, 600]}, "axis": null},
               "y": {"datum": 1, "type": "quantitative", "scale": {"domain": [0.09, 1.63]}, "axis": {"orient": "left", "values": [0.5, 1, 1.5], "ticks": false, "labelPadding": 12, "title": null, "labelExpr": "datum.value == 1 ? '1' : datum.value == 0.5 ? '0.5' : '1.5'"}}}},
            {"data": {"name": "one"}, "mark": {"type": "point", "opacity": 0},
             "encoding": {"x": {"datum": 100, "type": "quantitative", "scale": {"domain": [30, 600]}, "axis": {"orient": "bottom", "values": [100, 200, 300, 400, 500], "labels": false, "tickSize": -8, "title": null, "zindex": 1}},
               "y": {"datum": 1, "type": "quantitative", "scale": {"domain": [0.09, 1.63]}, "axis": {"orient": "left", "values": [0.5, 1, 1.5], "labels": false, "tickSize": -22, "title": null, "zindex": 1}}}},
            {"data": {"name": "one"}, "mark": {"type": "point", "opacity": 0},
             "encoding": {"x": {"datum": 100, "type": "quantitative", "scale": {"domain": [30, 600]}, "axis": {"orient": "bottom", "values": [40, 60, 80, 120, 140, 160, 180, 220, 240, 260, 280, 320, 340, 360, 380, 420, 440, 460, 480, 520, 540, 560, 580], "labels": false, "tickSize": -5, "title": null, "zindex": 1}},
               "y": {"datum": 1, "type": "quantitative", "scale": {"domain": [0.09, 1.63]}, "axis": {"orient": "left", "values": [0.1, 0.2, 0.3, 0.4, 0.6, 0.7, 0.8, 0.9, 1.1, 1.2, 1.3, 1.4, 1.6], "labels": false, "tickSize": -11, "title": null, "zindex": 1}}}},
            {"data": {"name": "one"}, "mark": {"type": "point", "opacity": 0},
             "encoding": {"x": {"datum": 100, "type": "quantitative", "scale": {"domain": [30, 600]}, "axis": {"orient": "top", "values": [100, 200, 300, 400, 500], "labels": false, "tickSize": -8, "title": null, "zindex": 1}},
               "y": {"datum": 1, "type": "quantitative", "scale": {"domain": [0.09, 1.63]}, "axis": {"orient": "right", "values": [0.5, 1, 1.5], "labels": false, "tickSize": -22, "title": null, "zindex": 1}}}},
            {"data": {"name": "one"}, "mark": {"type": "point", "opacity": 0},
             "encoding": {"x": {"datum": 100, "type": "quantitative", "scale": {"domain": [30, 600]}, "axis": {"orient": "top", "values": [40, 60, 80, 120, 140, 160, 180, 220, 240, 260, 280, 320, 340, 360, 380, 420, 440, 460, 480, 520, 540, 560, 580], "labels": false, "tickSize": -5, "title": null, "zindex": 1}},
               "y": {"datum": 1, "type": "quantitative", "scale": {"domain": [0.09, 1.63]}, "axis": {"orient": "right", "values": [0.1, 0.2, 0.3, 0.4, 0.6, 0.7, 0.8, 0.9, 1.1, 1.2, 1.3, 1.4, 1.6], "labels": false, "tickSize": -11, "title": null, "zindex": 1}}}}
          ]
        },
        {
          "width": 594,
          "height": 115,
          "resolve": {"axis": {"x": "independent", "y": "independent"}},
          "layer": [
            {"data": {"name": "bins"}, "mark": {"type": "rect", "color": "#ffdc66", "opacity": 0.75},
             "encoding": {"x": {"field": "lo", "type": "quantitative", "scale": {"domain": [30, 600]}, "axis": null}, "x2": {"field": "hi"},
               "y": {"field": "ylo", "type": "quantitative", "scale": {"domain": [0.125, 1.5875]}, "axis": null}, "y2": {"field": "yhi"}}},
            {"data": {"name": "pred"}, "transform": [{"filter": "datum.grp == 'SH'"}], "mark": {"type": "rect", "opacity": 0.55},
             "encoding": {"x": {"field": "lo", "type": "quantitative", "scale": {"domain": [30, 600]}, "axis": null}, "x2": {"field": "hi"},
               "y": {"field": "blo", "type": "quantitative", "scale": {"domain": [0.125, 1.5875]}, "axis": null}, "y2": {"field": "bhi"},
               "color": {"field": "band", "type": "nominal", "scale": {"domain": ["PDF"], "range": ["#40f4f4"]},
                 "legend": {"orient": "none", "legendX": 36.5, "legendY": 87, "direction": "horizontal", "title": null, "padding": 0,
                   "symbolType": "M-1.85,-0.85H1.85V0.85H-1.85Z", "symbolSize": 400, "symbolStrokeColor": "black", "symbolStrokeWidth": 2, "symbolOpacity": 1, "symbolOffset": 0,
                   "labelOffset": 15, "labelFont": "Liberation Sans", "labelFontSize": 23, "labelColor": "black", "labelLimit": 600,
                   "encode": {"symbols": {"update": {"stroke": {"value": "black"}, "opacity": {"value": 1}}}}}}}},
            {"data": {"name": "one"}, "mark": {"type": "point", "shape": "M-17.2,0.45l0.52,-0.9m0.15,0.9l0.52,-0.9m0.15,0.9l0.52,-0.9m0.15,0.9l0.52,-0.9m0.15,0.9l0.52,-0.9m0.15,0.9l0.52,-0.9m0.15,0.9l0.52,-0.9m0.15,0.9l0.52,-0.9m0.15,0.9l0.52,-0.9m0.15,0.9l0.52,-0.9m0.15,0.9l0.52,-0.9m0.15,0.9l0.52,-0.9m0.15,0.9l0.52,-0.9m0.15,0.9l0.52,-0.9m0.15,0.9l0.52,-0.9m0.15,0.9l0.52,-0.9m0.15,0.9l0.52,-0.9m0.15,0.9l0.52,-0.9m0.15,0.9l0.52,-0.9m0.15,0.9l0.52,-0.9m0.15,0.9l0.52,-0.9m0.15,0.9l0.52,-0.9m0.15,0.9l0.52,-0.9m0.15,0.9l0.52,-0.9m0.15,0.9l0.52,-0.9m0.15,0.9l0.52,-0.9m0.15,0.9l0.52,-0.9m0.15,0.9l0.52,-0.9m0.15,0.9l0.52,-0.9m0.15,0.9l0.52,-0.9m0.15,0.9l0.52,-0.9m0.15,0.9l0.52,-0.9m0.15,0.9l0.52,-0.9m0.15,0.9l0.52,-0.9m0.15,0.9l0.52,-0.9m0.15,0.9l0.52,-0.9m0.15,0.9l0.52,-0.9m0.15,0.9l0.52,-0.9m0.15,0.9l0.52,-0.9m0.15,0.9l0.52,-0.9m0.15,0.9l0.52,-0.9m0.15,0.9l0.52,-0.9m0.15,0.9l0.52,-0.9m0.15,0.9l0.52,-0.9m0.15,0.9l0.52,-0.9m0.15,0.9l0.52,-0.9m0.15,0.9l0.52,-0.9m0.15,0.9l0.52,-0.9m0.15,0.9l0.52,-0.9m0.15,0.9l0.52,-0.9m0.15,0.9l0.52,-0.9m0.15,0.9l0.52,-0.9m0.15,0.9l0.52,-0.9M16.97,0.45L17.2,0.05", "size": 400, "filled": false, "color": "#e8252a", "strokeWidth": 1.3, "opacity": 1},
             "encoding": {"x": {"datum": 195, "type": "quantitative", "scale": {"domain": [30, 600]}, "axis": null}, "y": {"datum": 0.99, "type": "quantitative", "scale": {"domain": [0.125, 1.5875]}, "axis": null}}},
            {"data": {"name": "one"}, "mark": {"type": "point", "shape": "M-11.65,2l2.3,-4m-1.35,4l2.3,-4m-1.35,4l2.3,-4m-1.35,4l2.3,-4m-1.35,4l2.3,-4m-1.35,4l2.3,-4m-1.35,4l2.3,-4m-1.35,4l2.3,-4m-1.35,4l2.3,-4m-1.35,4l2.3,-4m-1.35,4l2.3,-4m-1.35,4l2.3,-4m-1.35,4l2.3,-4m-1.35,4l2.3,-4m-1.35,4l2.3,-4m-1.35,4l2.3,-4m-1.35,4l2.3,-4m-1.35,4l2.3,-4m-1.35,4l2.3,-4m-1.35,4l2.3,-4m-1.35,4l2.3,-4m-1.35,4l2.3,-4m-1.35,4l2.3,-4m-1.35,4l2.3,-4M-12.5,-1.48L-12.2,-2M-12.5,0.17L-11.25,-2M-12.5,1.83L-10.3,-2M11.15,2L12.5,-0.35M12.1,2L12.5,1.3", "size": 360, "filled": false, "color": "#e8252a", "strokeWidth": 1.3, "opacity": 1},
             "encoding": {"x": {"datum": 480, "type": "quantitative", "scale": {"domain": [30, 600]}, "axis": null}, "y": {"datum": 0.995, "type": "quantitative", "scale": {"domain": [0.125, 1.5875]}, "axis": null}}},
            {"data": {"name": "one"}, "mark": {"type": "rule", "color": "black", "strokeWidth": 2},
             "encoding": {"x": {"datum": 30, "type": "quantitative", "scale": {"domain": [30, 600]}, "axis": null}, "x2": {"datum": 600}, "y": {"datum": 1, "type": "quantitative", "scale": {"domain": [0.125, 1.5875]}, "axis": null}}},
            {"data": {"name": "bins"}, "mark": {"type": "rule", "color": "black", "strokeWidth": 1.5},
             "encoding": {"x": {"field": "c", "type": "quantitative", "scale": {"domain": [30, 600]}, "axis": null}, "y": {"field": "slo", "type": "quantitative", "scale": {"domain": [0.125, 1.5875]}, "axis": null}, "y2": {"field": "shi"}}},
            {"data": {"name": "bins"}, "mark": {"type": "point", "filled": true, "color": "black", "size": 28, "opacity": 1},
             "encoding": {"x": {"field": "c", "type": "quantitative", "scale": {"domain": [30, 600]}, "axis": null}, "y": {"datum": 1, "type": "quantitative", "scale": {"domain": [0.125, 1.5875]}, "axis": null}}},
            {"data": {"name": "pred"}, "transform": [{"filter": "datum.grp == 'SH'"}], "mark": {"type": "rule", "strokeWidth": 3, "x2Offset": -8},
             "encoding": {"x": {"field": "lo", "type": "quantitative", "scale": {"domain": [30, 600]}, "axis": null}, "x2": {"field": "c"},
               "y": {"field": "r", "type": "quantitative", "scale": {"domain": [0.125, 1.5875]}, "axis": null},
               "stroke": {"field": "model", "type": "nominal", "scale": {"domain": ["MG5_aMC (NLO, NNPDF 3.1, CP5)", "MG5_aMC (NLO, NNPDF 3.0, CUETP8M1)", "MG5_aMC (LO, NNPDF 3.1, CP5)", "MG5_aMC (LO, NNPDF 3.0, CUETP8M1)", "Sherpa"], "range": ["#1010d0", "#990099", "#1c8c1c", "#cc6b1e", "#ff00ff"]}, "legend": null}}},
            {"data": {"name": "pred"}, "transform": [{"filter": "datum.grp == 'SH'"}], "mark": {"type": "rule", "strokeWidth": 3, "xOffset": 8},
             "encoding": {"x": {"field": "c", "type": "quantitative", "scale": {"domain": [30, 600]}, "axis": null}, "x2": {"field": "hi"},
               "y": {"field": "r", "type": "quantitative", "scale": {"domain": [0.125, 1.5875]}, "axis": null},
               "stroke": {"field": "model", "type": "nominal", "scale": {"domain": ["MG5_aMC (NLO, NNPDF 3.1, CP5)", "MG5_aMC (NLO, NNPDF 3.0, CUETP8M1)", "MG5_aMC (LO, NNPDF 3.1, CP5)", "MG5_aMC (LO, NNPDF 3.0, CUETP8M1)", "Sherpa"], "range": ["#1010d0", "#990099", "#1c8c1c", "#cc6b1e", "#ff00ff"]}, "legend": null}}},
            {"data": {"name": "pred"}, "transform": [{"filter": "datum.grp == 'SH'"}], "mark": {"type": "rule", "strokeWidth": 2},
             "encoding": {"x": {"field": "c", "type": "quantitative", "scale": {"domain": [30, 600]}, "axis": null},
               "y": {"field": "elo", "type": "quantitative", "scale": {"domain": [0.125, 1.5875]}, "axis": null}, "y2": {"field": "ehi"},
               "stroke": {"field": "model", "type": "nominal", "scale": {"domain": ["MG5_aMC (NLO, NNPDF 3.1, CP5)", "MG5_aMC (NLO, NNPDF 3.0, CUETP8M1)", "MG5_aMC (LO, NNPDF 3.1, CP5)", "MG5_aMC (LO, NNPDF 3.0, CUETP8M1)", "Sherpa"], "range": ["#1010d0", "#990099", "#1c8c1c", "#cc6b1e", "#ff00ff"]}, "legend": null}}},
            {"data": {"name": "pred"}, "transform": [{"filter": "datum.grp == 'SH'"}], "mark": {"type": "point", "filled": true, "size": 230, "strokeWidth": 1.5, "opacity": 1},
             "encoding": {"x": {"field": "c", "type": "quantitative", "scale": {"domain": [30, 600]}, "axis": null},
               "y": {"field": "r", "type": "quantitative", "scale": {"domain": [0.125, 1.5875]}, "axis": null},
               "shape": {"field": "model", "type": "nominal", "scale": {"domain": ["MG5_aMC (NLO, NNPDF 3.1, CP5)", "MG5_aMC (NLO, NNPDF 3.0, CUETP8M1)", "MG5_aMC (LO, NNPDF 3.1, CP5)", "MG5_aMC (LO, NNPDF 3.0, CUETP8M1)", "Sherpa"], "range": ["square", "square", "triangle-up", "triangle-down", "diamond"]}, "legend": null},
               "fill": {"field": "model", "type": "nominal", "scale": {"domain": ["MG5_aMC (NLO, NNPDF 3.1, CP5)", "MG5_aMC (NLO, NNPDF 3.0, CUETP8M1)", "MG5_aMC (LO, NNPDF 3.1, CP5)", "MG5_aMC (LO, NNPDF 3.0, CUETP8M1)", "Sherpa"], "range": ["white", "#990099", "#1c8c1c", "#cc6b1e", "#ff00ff"]}, "legend": null},
               "stroke": {"field": "model", "type": "nominal", "scale": {"domain": ["MG5_aMC (NLO, NNPDF 3.1, CP5)", "MG5_aMC (NLO, NNPDF 3.0, CUETP8M1)", "MG5_aMC (LO, NNPDF 3.1, CP5)", "MG5_aMC (LO, NNPDF 3.0, CUETP8M1)", "Sherpa"], "range": ["#1010d0", "#990099", "#1c8c1c", "#cc6b1e", "#ff00ff"]}, "legend": null}}},
            {"data": {"name": "one"}, "mark": {"type": "text", "text": "NLO,", "font": "Lato", "fontSize": 34, "align": "left", "baseline": "alphabetic", "color": "#ff22cc"},
             "encoding": {"x": {"datum": 643.2, "type": "quantitative", "scale": {"domain": [30, 600]}, "axis": null}, "y": {"datum": 0.7875, "type": "quantitative", "scale": {"domain": [0.125, 1.5875]}, "axis": null}}},
            {"data": {"name": "one"}, "mark": {"type": "text", "text": "Sherpa", "font": "Lato", "fontSize": 34, "align": "left", "baseline": "alphabetic", "color": "black"},
             "encoding": {"x": {"datum": 643.2, "type": "quantitative", "scale": {"domain": [30, 600]}, "axis": null}, "y": {"datum": 0.3125, "type": "quantitative", "scale": {"domain": [0.125, 1.5875]}, "axis": null}}},
            {"data": {"name": "one"}, "mark": {"type": "text", "text": "p", "font": "Liberation Sans", "fontSize": 22, "align": "right", "baseline": "alphabetic", "color": "black"},
             "encoding": {"x": {"datum": 503.1, "type": "quantitative", "scale": {"domain": [30, 600]}, "axis": null}, "y": {"datum": -0.5625, "type": "quantitative", "scale": {"domain": [0.125, 1.5875]}, "axis": null}}},
            {"data": {"name": "one"}, "mark": {"type": "text", "text": "b jet", "font": "Liberation Sans", "fontSize": 15, "align": "left", "baseline": "alphabetic", "color": "black"},
             "encoding": {"x": {"datum": 504.1, "type": "quantitative", "scale": {"domain": [30, 600]}, "axis": null}, "y": {"datum": -0.425, "type": "quantitative", "scale": {"domain": [0.125, 1.5875]}, "axis": null}}},
            {"data": {"name": "one"}, "mark": {"type": "text", "text": "T", "font": "Liberation Sans", "fontSize": 15, "align": "left", "baseline": "alphabetic", "color": "black"},
             "encoding": {"x": {"datum": 505, "type": "quantitative", "scale": {"domain": [30, 600]}, "axis": null}, "y": {"datum": -0.68, "type": "quantitative", "scale": {"domain": [0.125, 1.5875]}, "axis": null}}},
            {"data": {"name": "one"}, "mark": {"type": "text", "text": "[GeV]", "font": "Liberation Sans", "fontSize": 22, "align": "right", "baseline": "alphabetic", "color": "black"},
             "encoding": {"x": {"datum": 600, "type": "quantitative", "scale": {"domain": [30, 600]}, "axis": null}, "y": {"datum": -0.5625, "type": "quantitative", "scale": {"domain": [0.125, 1.5875]}, "axis": null}}},
            {"data": {"name": "one"}, "mark": {"type": "point", "opacity": 0},
             "encoding": {"x": {"datum": 100, "type": "quantitative", "scale": {"domain": [30, 600]}, "axis": {"orient": "bottom", "values": [100, 200, 300, 400, 500, 600], "ticks": false, "labelPadding": 5, "format": "d", "title": null}},
               "y": {"datum": 1, "type": "quantitative", "scale": {"domain": [0.125, 1.5875]}, "axis": {"orient": "left", "values": [0.5, 1, 1.5], "ticks": false, "labelPadding": 12, "title": null, "labelExpr": "datum.value == 1 ? '1' : datum.value == 0.5 ? '0.5' : '1.5'"}}}},
            {"data": {"name": "one"}, "mark": {"type": "point", "opacity": 0},
             "encoding": {"x": {"datum": 100, "type": "quantitative", "scale": {"domain": [30, 600]}, "axis": {"orient": "bottom", "values": [100, 200, 300, 400, 500], "labels": false, "tickSize": -8, "title": null, "zindex": 1}},
               "y": {"datum": 1, "type": "quantitative", "scale": {"domain": [0.125, 1.5875]}, "axis": {"orient": "left", "values": [0.5, 1, 1.5], "labels": false, "tickSize": -22, "title": null, "zindex": 1}}}},
            {"data": {"name": "one"}, "mark": {"type": "point", "opacity": 0},
             "encoding": {"x": {"datum": 100, "type": "quantitative", "scale": {"domain": [30, 600]}, "axis": {"orient": "bottom", "values": [40, 60, 80, 120, 140, 160, 180, 220, 240, 260, 280, 320, 340, 360, 380, 420, 440, 460, 480, 520, 540, 560, 580], "labels": false, "tickSize": -5, "title": null, "zindex": 1}},
               "y": {"datum": 1, "type": "quantitative", "scale": {"domain": [0.125, 1.5875]}, "axis": {"orient": "left", "values": [0.2, 0.3, 0.4, 0.6, 0.7, 0.8, 0.9, 1.1, 1.2, 1.3, 1.4], "labels": false, "tickSize": -11, "title": null, "zindex": 1}}}},
            {"data": {"name": "one"}, "mark": {"type": "point", "opacity": 0},
             "encoding": {"x": {"datum": 100, "type": "quantitative", "scale": {"domain": [30, 600]}, "axis": {"orient": "top", "values": [100, 200, 300, 400, 500], "labels": false, "tickSize": -8, "title": null, "zindex": 1}},
               "y": {"datum": 1, "type": "quantitative", "scale": {"domain": [0.125, 1.5875]}, "axis": {"orient": "right", "values": [0.5, 1, 1.5], "labels": false, "tickSize": -22, "title": null, "zindex": 1}}}},
            {"data": {"name": "one"}, "mark": {"type": "point", "opacity": 0},
             "encoding": {"x": {"datum": 100, "type": "quantitative", "scale": {"domain": [30, 600]}, "axis": {"orient": "top", "values": [40, 60, 80, 120, 140, 160, 180, 220, 240, 260, 280, 320, 340, 360, 380, 420, 440, 460, 480, 520, 540, 560, 580], "labels": false, "tickSize": -5, "title": null, "zindex": 1}},
               "y": {"datum": 1, "type": "quantitative", "scale": {"domain": [0.125, 1.5875]}, "axis": {"orient": "right", "values": [0.2, 0.3, 0.4, 0.6, 0.7, 0.8, 0.9, 1.1, 1.2, 1.3, 1.4], "labels": false, "tickSize": -11, "title": null, "zindex": 1}}}}
          ]
        }
      ]
    }
  ]
}
